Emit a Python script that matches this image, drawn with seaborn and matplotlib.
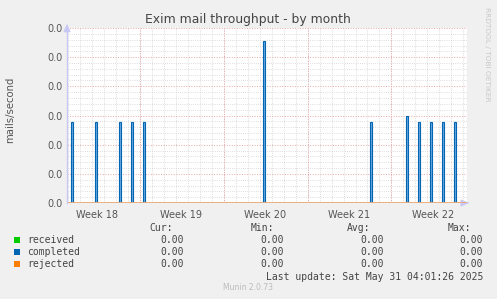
import matplotlib
matplotlib.use("Agg")
import matplotlib.pyplot as plt
import matplotlib.dates as mdates
from matplotlib.patches import Rectangle
from matplotlib.ticker import MultipleLocator, FormatStrFormatter
import pandas as pd
import seaborn as sns

# ---------------- data ----------------
X_START = "2025-04-27 23:00"
X_END = "2025-05-31 07:00"

SPIKE_TIMES = [
    "2025-04-28 08:00", "2025-04-30 08:00", "2025-05-02 08:00",
    "2025-05-03 08:00", "2025-05-04 08:00", "2025-05-14 08:00",
    "2025-05-23 08:00", "2025-05-26 08:00", "2025-05-27 08:00",
    "2025-05-28 08:00", "2025-05-29 08:00", "2025-05-30 08:00",
]
COMPLETED = [0.00278, 0.00278, 0.00278, 0.00278, 0.00278, 0.00556,
             0.00278, 0.00300, 0.00278, 0.00278, 0.00278, 0.00278]
RECEIVED = [0.0, 0.0]
REJECTED = [0.0, 0.0]

WEEK_CENTERS = ["2025-04-30 12:00", "2025-05-07 12:00", "2025-05-14 12:00",
                "2025-05-21 12:00", "2025-05-28 12:00"]
WEEK_LABELS = ["Week 18", "Week 19", "Week 20", "Week 21", "Week 22"]
WEEK_STARTS = ["2025-05-04", "2025-05-11", "2025-05-18", "2025-05-25"]

SERIES = ["received", "completed", "rejected"]
COLORS = ["#00cc00", "#0066b3", "#ff8000"]
CUR = ["0.00", "0.00", "0.00"]
MIN = ["0.00", "0.00", "0.00"]
AVG = ["0.00", "0.00", "0.00"]
MAX = ["0.00", "0.00", "0.00"]

TITLE = "Exim mail throughput - by month"
YLABEL = "mails/second"
LAST_UPDATE = "Last update: Sat May 31 04:01:26 2025"

# ---------------- style ----------------
sns.set_theme(style="white")
plt.rcParams["font.family"] = ["DejaVu Sans"]

W, H = 497, 299
fig = plt.figure(figsize=(W / 100, H / 100), dpi=100, facecolor="#f0f0f0")
ax = fig.add_axes([67 / W, 1 - 203 / H, 400 / W, 175 / H])
ax.set_facecolor("white")

x0, x1 = pd.Timestamp(X_START), pd.Timestamp(X_END)
times = pd.to_datetime(SPIKE_TIMES)

# grid
ax.xaxis.set_minor_locator(mdates.DayLocator())
ax.yaxis.set_major_locator(MultipleLocator(0.001))
ax.yaxis.set_minor_locator(MultipleLocator(0.0002))
ax.yaxis.set_major_formatter(FormatStrFormatter("%.1f"))
ax.grid(which="minor", axis="both", color="#d2d2d2", linestyle=(0, (1, 1.6)), linewidth=0.6)
ax.grid(which="major", axis="y", color="#e8a8a8", linestyle=(0, (1, 1.6)), linewidth=0.7)
for ws in pd.to_datetime(WEEK_STARTS):
    ax.axvline(ws, color="#e8a8a8", linestyle=(0, (1, 1.6)), linewidth=0.7, zorder=0.6)
ax.set_axisbelow(True)

# completed spikes
ax.bar(times, COMPLETED, width=pd.Timedelta(hours=4) / pd.Timedelta(days=1),
       color="#6aa8dc", edgecolor="#0066b3", linewidth=0.8, zorder=3)

# zero series
df_r = pd.DataFrame({"t": [x0, x1], "v": RECEIVED})
df_j = pd.DataFrame({"t": [x0, x1], "v": REJECTED})
sns.lineplot(data=df_r, x="t", y="v", ax=ax, color=COLORS[0], linewidth=1.0, zorder=4)
sns.lineplot(data=df_j, x="t", y="v", ax=ax, color="#f0a878", linewidth=1.3, zorder=5)

ax.set_xlim(x0, x1)
ax.set_ylim(0, 0.006)
ax.set_xticks(pd.to_datetime(WEEK_CENTERS))
ax.set_xticklabels(WEEK_LABELS)
ax.set_xlabel("")
ax.set_ylabel(YLABEL, fontsize=7.3, color="#555555", labelpad=24)
ax.yaxis.set_label_coords(-52 / 400, 0.53)
ax.tick_params(axis="both", which="both", length=0, labelsize=7, labelcolor="#555555", pad=3)
ax.tick_params(axis="x", pad=5)
for s in ["top", "right", "bottom"]:
    ax.spines[s].set_visible(False)
ax.spines["left"].set_color("#c8c8f5")
ax.spines["left"].set_linewidth(1.0)
ax.spines["left"].set_zorder(6)

# axis arrows
ax.annotate("", xy=(0, 1.04), xytext=(0, 0.99), xycoords="axes fraction",
            arrowprops=dict(arrowstyle="-|>,head_width=0.18,head_length=0.4",
                            color="#c8c8f5", lw=0.8))
ax.annotate("", xy=(1.012, 0), xytext=(0.995, 0), xycoords="axes fraction",
            arrowprops=dict(arrowstyle="-|>,head_width=0.18,head_length=0.4",
                            color="#c8c8f5", lw=0.8))

# title and side texts
fig.text(248 / W, 1 - 20 / H, TITLE, ha="center", va="center", fontsize=8.9, color="#444444")
fig.text(487 / W, 1 - 54 / H, "RRDTOOL / TOBI OETIKER", ha="center", va="center",
         rotation=270, fontsize=5.3, color="#c8c8c8")
fig.text(248 / W, 1 - 288 / H, "Munin 2.0.73", ha="center", va="center",
         fontsize=5.5, color="#bbbbbb")

# legend table
mono = dict(family="DejaVu Sans Mono", fontsize=7, color="#444444", va="center")
hy = 228
fig.text(173 / W, 1 - hy / H, "Cur:", ha="right", **mono)
fig.text(274 / W, 1 - hy / H, "Min:", ha="right", **mono)
fig.text(370 / W, 1 - hy / H, "Avg:", ha="right", **mono)
fig.text(471 / W, 1 - hy / H, "Max:", ha="right", **mono)
rows_y = [240, 252, 264]
for name, col, c, mn, av, mx, y in zip(SERIES, COLORS, CUR, MIN, AVG, MAX, rows_y):
    fig.patches.append(Rectangle((14 / W, 1 - (y + 3) / H), 6 / W, 6 / H,
                                 transform=fig.transFigure, facecolor=col,
                                 edgecolor="none", figure=fig))
    fig.text(27 / W, 1 - y / H, name, ha="left", **mono)
    fig.text(184 / W, 1 - y / H, c, ha="right", **mono)
    fig.text(284 / W, 1 - y / H, mn, ha="right", **mono)
    fig.text(384 / W, 1 - y / H, av, ha="right", **mono)
    fig.text(483 / W, 1 - y / H, mx, ha="right", **mono)
fig.text(483 / W, 1 - 276.5 / H, LAST_UPDATE, ha="right", **mono)

fig.savefig("out.png", dpi=100, facecolor=fig.get_facecolor())
